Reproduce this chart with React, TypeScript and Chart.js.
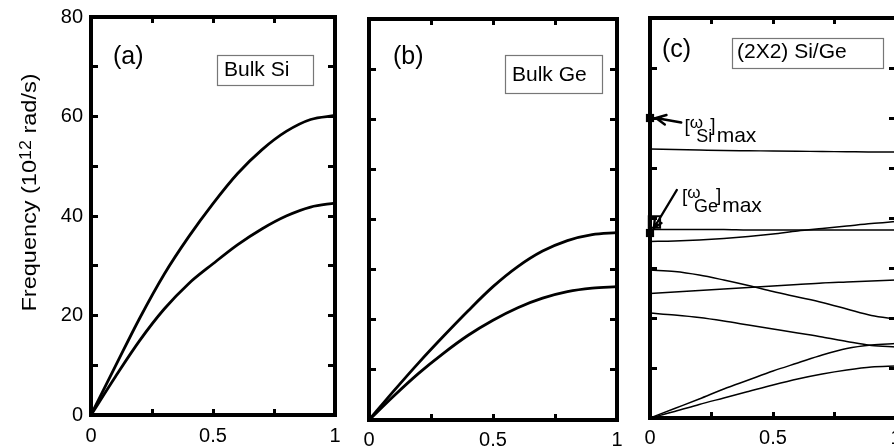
import React, { useEffect, useRef } from 'react';
import { Chart, registerables } from 'chart.js';

Chart.register(...registerables);

const FONT = '"Liberation Sans", Arial, Helvetica, sans-serif';

// ---- data ----
const q = [0, 0.1, 0.2, 0.3, 0.4, 0.5, 0.6, 0.7, 0.8, 0.9, 1];
const xLabelVals = [0, 0.5, 1];
const yLabelVals = [0, 20, 40, 60, 80];

// (a) bulk Si
const siUpper = [0, 9.8, 19.5, 28.3, 35.8, 42.5, 48.5, 53.3, 57, 59.4, 60.2];
const siLower = [0, 7.7, 15, 21.3, 26.4, 30.4, 34.2, 37.4, 40, 41.8, 42.6];
// (b) bulk Ge
const geUpper = [0, 5.8, 11.4, 16.7, 21.8, 26.6, 30.6, 33.7, 35.8, 37, 37.4];
const geLower = [0, 4.8, 9.3, 13.3, 16.9, 19.9, 22.4, 24.3, 25.6, 26.3, 26.6];
// (c) (2X2) Si/Ge superlattice branches
const slBranch1 = [53.8, 53.7, 53.6, 53.5, 53.45, 53.4, 53.35, 53.3, 53.25, 53.2, 53.2];
const slBranch2 = [37.7, 37.7, 37.7, 37.7, 37.6, 37.6, 37.6, 37.6, 37.6, 37.6, 37.6];
const slBranch3 = [35.3, 35.4, 35.6, 35.9, 36.3, 36.8, 37.4, 37.9, 38.4, 38.9, 39.3];
const slBranch4 = [29.6, 29.3, 28.6, 27.6, 26.5, 25.3, 24.2, 23.1, 21.8, 20.5, 19.8];
const slBranch5 = [24.9, 25.2, 25.5, 25.8, 26.1, 26.4, 26.7, 27, 27.2, 27.4, 27.6];
const slBranch6 = [21, 20.6, 20.1, 19.4, 18.6, 17.8, 17, 16.2, 15.3, 14.5, 14.2];
const slBranch7 = [0, 1.9, 3.8, 5.8, 7.6, 9.4, 11, 12.6, 13.9, 14.6, 14.9];
const slBranch8 = [0, 1.3, 2.7, 4, 5.3, 6.6, 7.8, 8.8, 9.6, 10.2, 10.4];

// annotated maximum frequencies (at q = 0)
const omegaSiMax = 60;
const omegaGeMax = 37;
// annotation anchors in data units [q, frequency]
const siArrowFrom = [0.127, 59.1];
const siArrowTo = [0.024, 60];
const geArrowFrom = [0.109, 45.6];
const geArrowTo = [0.016, 38];
const siLabelAt = [0.14, 57.2];
const geLabelAt = [0.13, 43.2];
const geBracketAt = [0.018, 39.2];

const pts = (ys: number[]) => q.map((x, i) => ({ x, y: ys[i] }));

type Box = { text: string; x: number; y: number; w: number; h: number; tx: number; ty: number };
type PanelDef = {
  id: string;
  left: number;
  width: number;
  yAxisW: number;
  yRightW: number;
  topH: number;
  bottomH: number;
  xPad: number;
  yLabels: boolean;
  lineWidth: number;
  series: number[][];
  tag: string;
  tagX: number;
  tagY: number;
  box: Box;
  extra?: 'title' | 'omega';
};

const panels: PanelDef[] = [
  {
    id: 'a', left: 0, width: 350, yAxisW: 91, yRightW: 15, topH: 17, bottomH: 33, xPad: 15,
    yLabels: true, lineWidth: 2.8, series: [siUpper, siLower],
    tag: '(a)', tagX: 113, tagY: 64,
    box: { text: 'Bulk Si', x: 217, y: 55, w: 96, h: 30, tx: 224, ty: 70 },
    extra: 'title',
  },
  {
    id: 'b', left: 350, width: 280, yAxisW: 19, yRightW: 13, topH: 19, bottomH: 28, xPad: 14,
    yLabels: false, lineWidth: 2.8, series: [geUpper, geLower],
    tag: '(b)', tagX: 43, tagY: 64,
    box: { text: 'Bulk Ge', x: 155, y: 55, w: 97, h: 38, tx: 162, ty: 75 },
  },
  {
    id: 'c', left: 630, width: 280, yAxisW: 20, yRightW: 14, topH: 18, bottomH: 30, xPad: 14,
    yLabels: false, lineWidth: 1.5,
    series: [slBranch1, slBranch2, slBranch3, slBranch4, slBranch5, slBranch6, slBranch7, slBranch8],
    tag: '(c)', tagX: 32, tagY: 57,
    box: { text: '(2X2) Si/Ge', x: 102, y: 38, w: 151, h: 30, tx: 107, ty: 52 },
    extra: 'omega',
  },
];

function drawYTitle(ctx: CanvasRenderingContext2D, cx: number, cy: number) {
  ctx.save();
  ctx.translate(cx, cy);
  ctx.rotate(-Math.PI / 2);
  const big = `21px ${FONT}`;
  const small = `16px ${FONT}`;
  const p1 = 'Frequency (10';
  const p2 = '12';
  const p3 = ' rad/s)';
  ctx.font = big;
  const w1 = ctx.measureText(p1).width;
  const w3 = ctx.measureText(p3).width;
  ctx.font = small;
  const w2 = ctx.measureText(p2).width;
  const total = w1 + w2 + w3;
  const sx = 238 / total;
  ctx.scale(sx, 1);
  let x = -total / 2;
  ctx.fillStyle = '#000';
  ctx.textAlign = 'left';
  ctx.textBaseline = 'alphabetic';
  ctx.font = big;
  ctx.fillText(p1, x, 0);
  x += w1;
  ctx.font = small;
  ctx.fillText(p2, x, -5);
  x += w2;
  ctx.font = big;
  ctx.fillText(p3, x, 0);
  ctx.restore();
}

function drawOmegaLabel(ctx: CanvasRenderingContext2D, x0: number, b: number, sub: string) {
  ctx.save();
  ctx.fillStyle = '#000';
  ctx.textAlign = 'left';
  ctx.textBaseline = 'alphabetic';
  ctx.font = `19px ${FONT}`;
  ctx.fillText('[', x0, b);
  const wB = ctx.measureText('[').width;
  ctx.font = `17px ${FONT}`;
  ctx.fillText('\u03C9', x0 + wB, b - 4);
  const wO = ctx.measureText('\u03C9').width;
  ctx.font = `18px ${FONT}`;
  const sx = x0 + wB + wO * 0.5;
  ctx.fillText(sub, sx, b + 10);
  const wS = ctx.measureText(sub).width;
  const xr = sx + wS - 2;
  ctx.font = `19px ${FONT}`;
  ctx.fillText(']', xr, b - 1);
  const wR = ctx.measureText(']').width;
  ctx.font = `21px ${FONT}`;
  ctx.fillText('max', xr + wR + 1, b + 10);
  ctx.restore();
}

function drawArrow(ctx: CanvasRenderingContext2D, x1: number, y1: number, x2: number, y2: number, head: number) {
  const ang = Math.atan2(y2 - y1, x2 - x1);
  ctx.save();
  ctx.strokeStyle = '#000';
  ctx.lineWidth = 2.4;
  ctx.lineCap = 'round';
  ctx.beginPath();
  ctx.moveTo(x1, y1);
  ctx.lineTo(x2, y2);
  ctx.moveTo(x2 - head * Math.cos(ang - 0.45), y2 - head * Math.sin(ang - 0.45));
  ctx.lineTo(x2, y2);
  ctx.lineTo(x2 - head * Math.cos(ang + 0.45), y2 - head * Math.sin(ang + 0.45));
  ctx.stroke();
  ctx.restore();
}

function makeConfig(p: PanelDef): any {
  const datasets: any[] = p.series.map((s) => ({
    data: pts(s),
    showLine: true,
    borderColor: '#000',
    borderWidth: p.lineWidth,
    pointRadius: 0,
    fill: false,
    cubicInterpolationMode: 'monotone',
  }));
  if (p.extra === 'omega') {
    datasets.push({
      data: [{ x: 0, y: omegaSiMax }, { x: 0, y: omegaGeMax }],
      showLine: false,
      pointStyle: 'rect',
      pointRadius: 5.8,
      backgroundColor: '#000',
      borderColor: '#000',
      borderWidth: 0,
      clip: false,
    });
    datasets.push({
      data: [{ x: geBracketAt[0], y: geBracketAt[1] }],
      showLine: false,
      pointStyle: 'rect',
      pointRadius: 8,
      backgroundColor: 'rgba(0,0,0,0)',
      borderColor: '#000',
      borderWidth: 2,
      clip: false,
    });
  }

  const grid = { drawOnChartArea: false, drawTicks: true, color: '#000', lineWidth: 3 };
  const border = { display: true, color: '#000', width: 4 };
  const tickFont = { family: FONT, size: 20 };

  const overlay = {
    id: 'overlay-' + p.id,
    afterDraw(chart: any) {
      const ctx: CanvasRenderingContext2D = chart.ctx;
      ctx.save();
      ctx.fillStyle = '#000';
      ctx.textAlign = 'left';
      ctx.textBaseline = 'alphabetic';
      ctx.font = `25px ${FONT}`;
      ctx.fillText(p.tag, p.tagX, p.tagY);
      const b = p.box;
      ctx.fillStyle = '#fff';
      ctx.fillRect(b.x, b.y, b.w, b.h);
      ctx.strokeStyle = '#777';
      ctx.lineWidth = 1.2;
      ctx.strokeRect(b.x + 0.5, b.y + 0.5, b.w, b.h);
      ctx.fillStyle = '#000';
      ctx.font = `21px ${FONT}`;
      ctx.textBaseline = 'middle';
      ctx.fillText(b.text, b.tx, b.ty);
      ctx.restore();

      if (p.extra === 'title') {
        drawYTitle(ctx, 36, 192.5);
      }
      if (p.extra === 'omega') {
        const xs = chart.scales.x;
        const ys = chart.scales.y;
        const X = (v: number) => xs.getPixelForValue(v);
        const Y = (v: number) => ys.getPixelForValue(v);
        drawArrow(ctx, X(siArrowFrom[0]), Y(siArrowFrom[1]), X(siArrowTo[0]), Y(siArrowTo[1]), 11);
        drawArrow(ctx, X(geArrowFrom[0]), Y(geArrowFrom[1]), X(geArrowTo[0]), Y(geArrowTo[1]), 9);
        drawOmegaLabel(ctx, X(siLabelAt[0]), Y(siLabelAt[1]), 'Si');
        drawOmegaLabel(ctx, X(geLabelAt[0]), Y(geLabelAt[1]), 'Ge');
      }
    },
  };

  const fitH = (h: number) => (s: any) => {
    s.height = h;
    s.paddingLeft = 0;
    s.paddingRight = 0;
    s.paddingTop = 0;
    s.paddingBottom = 0;
  };
  const fitW = (w: number) => (s: any) => {
    s.width = w;
    s.paddingLeft = 0;
    s.paddingRight = 0;
    s.paddingTop = 0;
    s.paddingBottom = 0;
  };

  return {
    type: 'scatter',
    data: { datasets },
    plugins: [overlay],
    options: {
      responsive: false,
      animation: false,
      events: [],
      layout: { padding: 0 },
      plugins: { legend: { display: false }, tooltip: { enabled: false } },
      scales: {
        x: {
          type: 'linear', position: 'bottom', min: 0, max: 1, display: true,
          ticks: {
            stepSize: 0.25, autoSkip: false, maxRotation: 0, color: '#000', font: tickFont,
            padding: p.xPad,
            callback: (v: number) => (xLabelVals.includes(v) ? String(v) : ''),
          },
          grid: { ...grid, tickLength: -6 },
          border,
          afterFit: fitH(p.bottomH),
        },
        xTop: {
          type: 'linear', position: 'top', min: 0, max: 1, display: true,
          ticks: { display: false, stepSize: 0.25 },
          grid: { ...grid, tickLength: -6 },
          border,
          afterFit: fitH(p.topH),
        },
        y: {
          type: 'linear', position: 'left', min: 0, max: 80, display: true,
          ticks: {
            display: p.yLabels, stepSize: 10, color: '#000', font: tickFont, padding: 15,
            callback: (v: number) => (yLabelVals.includes(v) ? String(v) : ''),
          },
          grid: { ...grid, tickLength: -7 },
          border,
          afterFit: fitW(p.yAxisW),
        },
        yRight: {
          type: 'linear', position: 'right', min: 0, max: 80, display: true,
          ticks: { display: false, stepSize: 10 },
          grid: { ...grid, tickLength: -7 },
          border,
          afterFit: fitW(p.yRightW),
        },
      },
    },
  };
}

function PanelCanvas({ p }: { p: PanelDef }) {
  const ref = useRef<HTMLCanvasElement | null>(null);
  useEffect(() => {
    if (!ref.current) return;
    const chart = new Chart(ref.current, makeConfig(p));
    return () => chart.destroy();
  }, [p]);
  return (
    <canvas
      ref={ref}
      width={p.width}
      height={448}
      style={{ position: 'absolute', left: p.left, top: 0, width: p.width, height: 448 }}
    />
  );
}

export default function App() {
  return (
    <div
      style={{
        position: 'fixed', left: 0, top: 0, width: 894, height: 448,
        overflow: 'hidden', background: '#fff',
      }}
    >
      {panels.map((p) => (
        <PanelCanvas key={p.id} p={p} />
      ))}
    </div>
  );
}
